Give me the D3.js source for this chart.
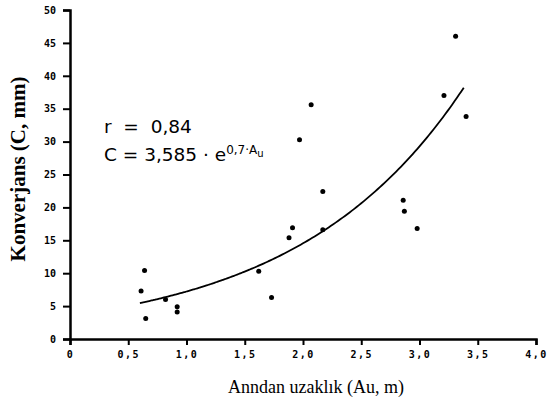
<!DOCTYPE html>
<html><head><meta charset="utf-8">
<script src="https://cdn.jsdelivr.net/npm/d3@7"></script>
<style>
body{margin:0;background:#fff;}
svg{display:block;}
.tick text{font-family:"DejaVu Sans Mono",monospace;font-weight:bold;font-size:10px;}
.xax .tick text{letter-spacing:1.5px;}
</style></head>
<body>
<svg id="chart" width="555" height="404"></svg>
<script>
// Data
const distances = [0.64, 0.61, 0.65, 0.82, 0.92, 0.92, 1.62, 1.73, 1.88, 1.91, 1.97, 2.07, 2.17, 2.17, 2.86, 2.87, 2.98, 3.21, 3.31, 3.40];
const convergence = [10.4, 7.3, 3.1, 6.0, 4.9, 4.1, 10.3, 6.3, 15.4, 16.9, 30.3, 35.6, 22.4, 16.6, 21.1, 19.4, 16.8, 37.0, 46.0, 33.8];
const xTicks = [0, 0.5, 1.0, 1.5, 2.0, 2.5, 3.0, 3.5, 4.0];
const xTickLabels = ["0", "0,5", "1,0", "1,5", "2,0", "2,5", "3,0", "3,5", "4,0"];
const yTicks = [0, 5, 10, 15, 20, 25, 30, 35, 40, 45, 50];
const fitA = 3.585, fitB = 0.7;
const fitRange = [0.60, 3.38];
const xTitle = "Anndan uzaklık (Au, m)";
const yTitle = "Konverjans (C, mm)";

const svg = d3.select("#chart");
const x = d3.scaleLinear().domain([0, 4]).range([70, 536]);
const y = d3.scaleLinear().domain([0, 50]).range([339, 10]);

svg.append("g").attr("class", "xax").attr("transform", `translate(0,${y(0)})`)
  .call(d3.axisBottom(x).tickValues(xTicks).tickFormat((d, i) => xTickLabels[i]).tickSizeOuter(0).tickSize(6).tickPadding(6));
svg.append("g").attr("class", "yax").attr("transform", `translate(${x(0)},0)`)
  .call(d3.axisLeft(y).tickValues(yTicks).tickFormat(d => d).tickSizeOuter(0).tickSize(7).tickPadding(7));
svg.selectAll(".domain").style("stroke", "#000").style("stroke-width", "2.5px");
svg.selectAll(".tick line").style("stroke", "#000").style("stroke-width", "2px");
svg.selectAll(".tick text").style("fill", "#000");

// fitted curve
const curvePts = d3.range(fitRange[0], fitRange[1] + 0.001, 0.02).map(v => [v, fitA * Math.exp(fitB * v)]);
svg.append("path").datum(curvePts)
  .attr("fill", "none").attr("stroke", "#000").attr("stroke-width", 1.8)
  .attr("d", d3.line().x(d => x(d[0])).y(d => y(d[1])).curve(d3.curveMonotoneX));

// points
svg.selectAll("circle.pt").data(distances).enter().append("circle")
  .attr("class", "pt").attr("cx", d => x(d)).attr("cy", (d, i) => y(convergence[i]))
  .attr("r", 2.5).attr("fill", "#000");

// titles
svg.append("text").attr("x", 316).attr("y", 393).attr("text-anchor", "middle")
  .attr("font-family", "Liberation Serif, Times New Roman, serif").attr("font-size", 18)
  .text(xTitle);
svg.append("text").attr("transform", "translate(25,169) rotate(-90)").attr("text-anchor", "middle")
  .attr("font-family", "Liberation Serif, Times New Roman, serif").attr("font-size", 21).attr("font-weight", "bold")
  .text(yTitle);

// annotation
const ann = svg.append("g").attr("font-family", "DejaVu Sans, sans-serif").attr("fill", "#000");
ann.append("text").attr("x", 104).attr("y", 133).attr("font-size", 18.5).attr("xml:space", "preserve")
  .style("white-space", "pre").text("r  =  0,84");
const t2 = ann.append("text").attr("x", 104).attr("y", 161).attr("font-size", 18.5).style("white-space", "pre");
t2.append("tspan").text("C = 3,585 · e");
t2.append("tspan").attr("font-size", 12).attr("dy", -7).text("0,7·A");
t2.append("tspan").attr("font-size", 10).attr("dy", 3).text("u");
</script>
</body></html>
